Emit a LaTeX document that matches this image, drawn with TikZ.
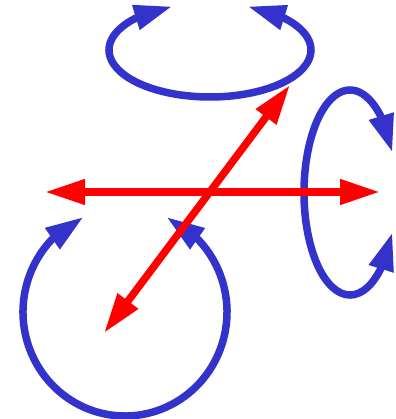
\documentclass[tikz,border=0pt]{standalone}
\usepackage{xcolor}
\usepackage{tikz}
\usetikzlibrary{arrows.meta,bending}
\definecolor{rotblue}{HTML}{3333CC}
\definecolor{axisred}{HTML}{FF0000}
\tikzset{
  axisarrow/.style={
    {Triangle[length=40pt, width=24pt]}-{Triangle[length=40pt, width=24pt]},
    line width=7.5pt, color=axisred
  },
  turnarrow/.style={
    {Triangle[length=38pt, width=24pt]}-{Triangle[length=38pt, width=24pt]},
    line width=7.5pt, color=rotblue
  },
}
\begin{document}
\begin{tikzpicture}[x=1pt, y=1pt]
  \useasboundingbox (0,0) rectangle (395,419);
  \clip (0,0) rectangle (395,419);
  \coordinate (xneg) at (45,227);
  \coordinate (xpos) at (380,227);
  \coordinate (ypos) at (290,334);
  \coordinate (yneg) at (104,86);
  \coordinate (topc) at (210,369);
  \coordinate (rightc) at (350,226.5);
  \coordinate (lowc) at (125,107);

  \draw[turnarrow] (topc) ++(112:101pt and 47pt)
    arc[start angle=112, end angle=428, x radius=101pt, y radius=47pt];
  \draw[turnarrow] (rightc) ++(23:46pt and 102.5pt)
    arc[start angle=23, end angle=337, x radius=46pt, y radius=102.5pt];
  \draw[turnarrow] (lowc) ++(114:102pt and 104pt)
    arc[start angle=114, end angle=426, x radius=102pt, y radius=104pt];

  \draw[axisarrow] (xneg) -- (xpos);
  \draw[axisarrow] (yneg) -- (ypos);
\end{tikzpicture}
\end{document}
